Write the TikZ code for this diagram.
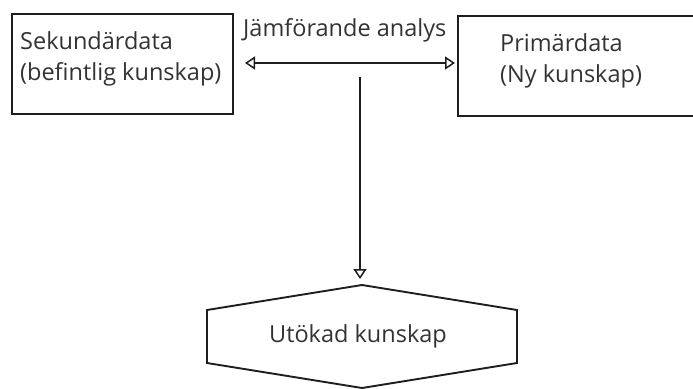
\documentclass[tikz,border=0pt]{standalone}
\usepackage{fontspec}
\setmainfont{Open Sans}
\usetikzlibrary{arrows.meta}
\definecolor{ink}{HTML}{1E1E1E}
\definecolor{txt}{HTML}{333333}
\tikzset{
  boxshape/.style={draw=ink, line width=2pt, rectangle, inner sep=0pt, anchor=north west},
  label/.style={text=txt, font=\fontsize{23.5}{31}\selectfont, inner sep=0pt, align=left},
  conn/.style={draw=ink, line width=1.9pt},
  tipopen/.tip={Triangle[open, length=10pt, width=13pt, line width=1.5pt]},
}
\begin{document}
\begin{tikzpicture}[x=1pt, y=-1pt]
\clip (0,0) rectangle (693,388);
% boxes
\node[boxshape, minimum width=221pt, minimum height=100pt] (sek) at (11,13) {};
\node[boxshape, minimum width=245pt, minimum height=100pt] (prim) at (457,15) {};
% box texts (anchored at the baseline of the last line)
\node[label, anchor=base west] (sektext) at (20,80) {Sekundärdata\\(befintlig kunskap)};
\node[label, anchor=base west] (primtext) at (500,82) {Primärdata\\(Ny kunskap)};
\node[label, anchor=base west] (jamf) at (243,36) {Jämförande analys};
% hexagon
\coordinate (ht) at (362,285);
\coordinate (hr1) at (517,310);
\coordinate (hr2) at (517,363);
\coordinate (hb) at (362,388);
\coordinate (hl2) at (207,363);
\coordinate (hl1) at (207,310);
\draw[conn] (ht) -- (hr1) -- (hr2) -- (hb) -- (hl2) -- (hl1) -- cycle;
\node[label, anchor=base] (utok) at (358,342) {Utökad kunskap};
% connectors
\coordinate (al) at (245,63);
\coordinate (ar) at (455,63);
\draw[conn, tipopen-tipopen] (al) -- (ar);
\coordinate (vtop) at (360,77);
\coordinate (vbot) at (360,279);
\draw[conn, -tipopen] (vtop) -- (vbot);
\end{tikzpicture}
\end{document}
